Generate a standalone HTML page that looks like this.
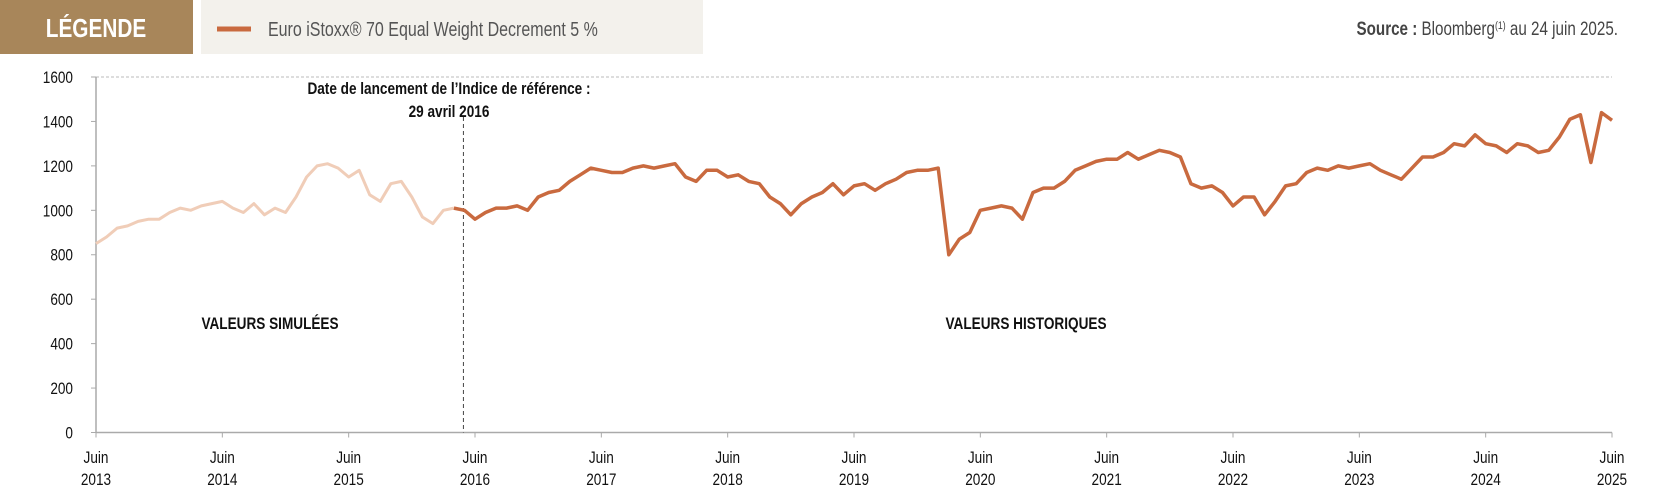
<!DOCTYPE html>
<html><head><meta charset="utf-8">
<style>
body{margin:0;width:1665px;height:495px;background:#fff;overflow:hidden;font-family:"Liberation Sans Narrow","Liberation Sans",sans-serif;}
svg{position:absolute;left:0;top:0}
</style></head>
<body>
<svg width="1665" height="495">
  <rect x="0" y="0" width="193" height="54" fill="#a8865a"/>
  <text x="96" y="37" text-anchor="middle" fill="#fff" font-size="26" font-weight="bold">LÉGENDE</text>
  <rect x="201" y="0" width="502" height="54" fill="#f3f1ec"/>
  <line x1="217" y1="29" x2="251" y2="29" stroke="#c96a3f" stroke-width="5"/>
  <text x="268" y="36" fill="#555" font-size="20">Euro iStoxx® 70 Equal Weight Decrement 5 %</text>
  <text x="1618" y="35" text-anchor="end" fill="#444" font-size="19"><tspan font-weight="bold">Source :</tspan> Bloomberg<tspan font-size="11" dy="-6">(1)</tspan><tspan dy="6"> au 24 juin 2025.</tspan></text>
  <g id="axes"></g>
  <g id="series"></g>
  <text x="449" y="94" text-anchor="middle" font-size="17" font-weight="bold" fill="#111">Date de lancement de l’Indice de référence :</text>
  <text x="449" y="117" text-anchor="middle" font-size="17" font-weight="bold" fill="#111">29 avril  2016</text>
  <text x="270" y="329" text-anchor="middle" font-size="17" font-weight="bold" fill="#111">VALEURS SIMULÉES</text>
  <text x="1026" y="329" text-anchor="middle" font-size="17" font-weight="bold" fill="#111">VALEURS HISTORIQUES</text>
</svg>
<script>
// monthly values, Jun 2013 .. Apr 2016 (simulated)
const simValues=[850,880,920,930,950,960,960,
 990,1010,1000,1020,1030,1040,1010,990,1030,980,1010,990,
 1060,1150,1200,1210,1190,1150,1180,1070,1040,1120,1130,1060,
 970,940,1000,1010];
// monthly values, Apr 2016 .. Jun 2025 (historical)
const histValues=[1010,1000,960,990,1010,1010,1020,1000,1060,
 1080,1090,1130,1160,1190,1180,1170,1170,1190,1200,1190,1200,
 1210,1150,1130,1180,1180,1150,1160,1130,1120,1060,1030,980,
 1030,1060,1080,1120,1070,1110,1120,1090,1120,1140,1170,1180,
 1180,1190,800,870,900,1000,1010,1020,1010,960,1080,1100,
 1100,1130,1180,1200,1220,1230,1230,1260,1230,1250,1270,1260,
 1240,1120,1100,1110,1080,1020,1060,1060,980,1040,1110,1120,
 1170,1190,1180,1200,1190,1200,1210,1180,1160,1140,1190,1240,
 1240,1260,1300,1290,1340,1300,1290,1260,1300,1290,1260,1270,
 1330,1410,1430,1215,1440,1405];
const yTicks=[0,200,400,600,800,1000,1200,1400,1600];
const xTickYears=["2013","2014","2015","2016","2017","2018","2019","2020","2021","2022","2023","2024","2025"];
const simStart=0;      // months after Jun 2013
const histStart=34;    // Apr 2016
const launchMonth=34.9;

const X0=96,X1=1612,Y0=432.5,Y1=77,MONTHS=144,YMAX=1600;
const NS='http://www.w3.org/2000/svg';
const xs=m=>X0+(X1-X0)*m/MONTHS;
const ys=v=>Y0-(Y0-Y1)*v/YMAX;
const axes=document.getElementById('axes'),series=document.getElementById('series');
function mk(tag,attrs,parent){const e=document.createElementNS(NS,tag);for(const k in attrs)e.setAttribute(k,attrs[k]);parent.appendChild(e);return e;}

let g=mk('line',{x1:X0,y1:ys(1600),x2:X1,y2:ys(1600),stroke:'#bbb','stroke-dasharray':'3,2','stroke-width':1},axes);


let ya=mk('line',{x1:X0,y1:Y1,x2:X0,y2:Y0,stroke:'#aaa','stroke-width':1.5},axes);


let xa=mk('line',{x1:X0,y1:Y0,x2:X1,y2:Y0,stroke:'#aaa','stroke-width':1.5},axes);


yTicks.forEach(v=>{
  const tk=mk('line',{x1:X0-5,y1:ys(v),x2:X0,y2:ys(v),stroke:'#aaa'},axes);
  
  
  const t=mk('text',{x:73,y:ys(v)+6,'text-anchor':'end','font-size':17,fill:'#111'},axes);
  t.textContent=v;
  
  
});
xTickYears.forEach((yr,i)=>{
  const x=xs(i*12);
  const tk=mk('line',{x1:x,y1:Y0,x2:x,y2:Y0+5,stroke:'#aaa'},axes);
  
  
  const t1=mk('text',{x:x,y:463,'text-anchor':'middle','font-size':17,fill:'#111'},axes);
  t1.textContent='Juin';
  
  
  const t2=mk('text',{x:x,y:485,'text-anchor':'middle','font-size':17,fill:'#111'},axes);
  t2.textContent=yr;
  
  
});
const ll=mk('line',{x1:xs(launchMonth),y1:ys(1420),x2:xs(launchMonth),y2:Y0,stroke:'#444','stroke-dasharray':'4,3','stroke-width':1},axes);



function path(vals,start){return vals.map((v,i)=>(i?'L':'M')+xs(start+i).toFixed(1)+','+ys(v).toFixed(1)).join('');}
const sp=mk('path',{d:path(simValues,simStart),fill:'none',stroke:'#f0cdb8','stroke-width':3,'stroke-linejoin':'round'},series);


const hp=mk('path',{d:path(histValues,histStart),fill:'none',stroke:'#c96a3f','stroke-width':3.5,'stroke-linejoin':'round'},series);



// condense all text horizontally (narrow font look)
document.querySelectorAll('svg > text, #axes text').forEach(t=>{
  const x=parseFloat(t.getAttribute('x'));
  t.setAttribute('transform','translate('+x+',0) scale(0.8,1) translate('+(-x)+',0)');
});
</script>
</body></html>
